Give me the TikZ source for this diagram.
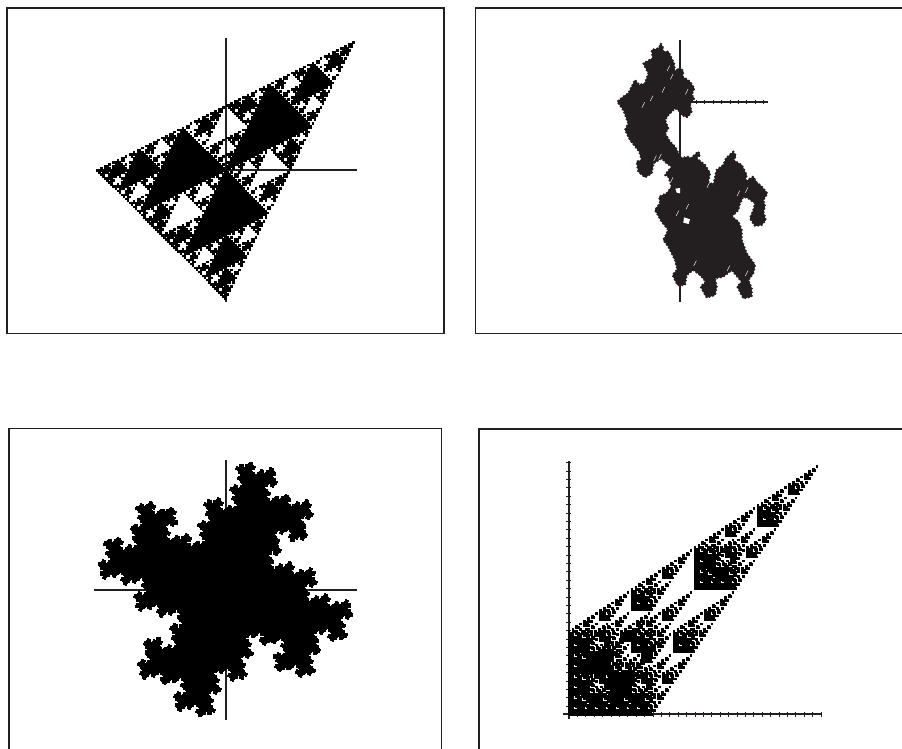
\documentclass[tikz,border=0pt]{standalone}
\makeatletter
\definecolor{ink}{HTML}{231F20}
\def\dodigit#1#2{\edef\temp{\noexpand\recur{\nd}%
 {\the\numexpr\cx+\cre*#1/1000000-\cim*#2/1000000\relax}%
 {\the\numexpr\cy+\cim*#1/1000000+\cre*#2/1000000\relax}%
 {\nmr}{\nmi}}\temp}
\def\recur#1#2#3#4#5{%
 \ifnum#1=0
  \pgfpathrectangle{\pgfqpoint{#2sp}{#3sp}}{\pgfqpoint{\dotw}{\dotw}}\pgfusepath{fill}%
 \else
  \begingroup
  \edef\nd{\the\numexpr#1-1\relax}%
  \edef\nmr{\the\numexpr#4*\ibr/1000000-#5*\ibi/1000000\relax}%
  \edef\nmi{\the\numexpr#4*\ibi/1000000+#5*\ibr/1000000\relax}%
  \def\cx{#2}\def\cy{#3}\def\cre{\nmr}\def\cim{\nmi}%
  \digits
  \endgroup
 \fi}
\newcommand\fractal[7]{%
 \begingroup
 \def\ibr{#4}\def\ibi{#5}\def\dotw{#6}\def\digits{#7}%
 \edef\ox{\the\numexpr\dimexpr#1pt-#6/2\relax\relax}\edef\oy{\the\numexpr\dimexpr#2pt-#6/2\relax\relax}%
 \recur{#3}{\ox}{\oy}{1000000}{0}%
 \endgroup}
\makeatother
\def\D#1#2{\dodigit{\numexpr#1*65536\relax}{\numexpr#2*65536\relax}}
\def\E#1#2{\dodigit{\numexpr#1*5505024\relax}{\numexpr#2*5505024\relax}}
\tikzset{frame/.style={draw=ink,line width=1.6pt},axis/.style={draw=ink,line width=2pt},tick/.style={draw=ink,line width=.7pt},
 beads/.style={draw=ink,line width=2.6pt,line cap=round,dash pattern=on 0pt off 3.6pt},
 slit/.style={draw=white,line width=.45pt}}
\begin{document}
\begin{tikzpicture}[x=1pt,y=-1pt,yshift=749pt]
\useasboundingbox (0,0) rectangle (902,749);
\draw[frame] (7,8) rectangle (444,333.5);
\draw[frame] (475.5,8) rectangle (904,333.5);
\draw[frame] (9,428.5) rectangle (441.5,752);
\draw[frame] (479,429) rectangle (904,752);
% axes
\draw[axis] (96,170.5)--(357,170.5); \draw[axis] (225.5,38)--(225.5,302);
\draw[axis] (94,590)--(357,590); \draw[axis] (225.5,460)--(225.5,720);
\draw[axis] (640,102)--(768,102); \draw[axis] (679.5,40)--(679.5,302);
\draw[axis] (563,714.5)--(822,714.5); \draw[axis] (568.5,461)--(568.5,719);
\foreach \t in {0,...,30}{\draw[tick] (569+\t*8.4,712)--(569+\t*8.4,717);\draw[tick] (566,714.5-\t*8.4)--(571,714.5-\t*8.4);}
\foreach \t in {0,...,10}{\draw[tick] (679.5+\t*8.4,100)--(679.5+\t*8.4,104);}
\fill[ink] \pgfextra{\pgftransformreset
 \fractal{225.5}{578.5}{6}{500000}{0}{2.6pt}{\D{-130}{0}\D{0}{-130}\D{130}{130}\D00}
 \fractal{225.5}{159.5}{6}{400000}{200000}{2.5pt}{\D00\D{130}{109}\D{-109}{130}\D{-130}{-109}\D{109}{-130}}
 \fractal{569}{34.5}{6}{500000}{0}{2.8pt}{\E00\E01\E10\E33}
 };
\begin{scope}[xshift=600pt,yshift=-30pt,x=.33333pt,y=-.33333pt]
\path[fill=ink,beads,postaction={fill=ink}] (183,42)--(190,55)--(185,65)--(205,65)--(215,85)--(222,100)--(225,125)--(240,112)--(250,125)--(248,140)--(270,155)--(283,175)--(275,195)--(283,205)--(270,225)--(275,245)--(262,262)--(245,255)--(235,240)--(225,235)--(205,255)--(195,270)--(205,295)--(195,310)--(210,335)--(225,350)--(238,375)--(245,385)--(262,380)--(272,385)--(295,365)--(300,375)--(290,385)--(315,405)--(330,430)--(325,455)--(340,465)--(350,420)--(370,405)--(378,385)--(400,365)--(408,378)--(400,390)--(425,405)--(440,435)--(435,455)--(460,440)--(468,455)--(485,470)--(502,490)--(490,510)--(495,530)--(490,545)--(497,570)--(485,585)--(465,588)--(450,565)--(460,540)--(465,520)--(445,505)--(430,500)--(420,520)--(415,540)--(395,560)--(415,575)--(425,600)--(425,630)--(440,670)--(465,705)--(460,730)--(445,750)--(455,775)--(455,800)--(430,805)--(412,770)--(425,755)--(395,720)--(370,740)--(345,745)--(350,770)--(345,795)--(320,803)--(302,770)--(318,755)--(300,735)--(280,720)--(260,735)--(255,765)--(232,765)--(218,735)--(232,718)--(225,690)--(205,650)--(190,630)--(205,600)--(185,575)--(165,540)--(180,520)--(178,500)--(200,490)--(215,470)--(205,440)--(195,435)--(215,410)--(200,400)--(185,385)--(160,400)--(155,430)--(135,442)--(115,425)--(110,395)--(125,390)--(118,365)--(90,330)--(75,300)--(85,280)--(70,240)--(52,215)--(70,200)--(85,190)--(105,150)--(118,165)--(135,160)--(145,130)--(130,100)--(158,85)--(155,60)--(175,55)--cycle;
\foreach \px/\py in {205/115,215/140,260/185,190/180,155/205,130/225,180/380,165/385,215/450,262/530,415/490,325/465,440/480,285/700,385/715,440/730,232/550}
 \draw[slit] (\px-4,\py+8)..controls (\px-2,\py+2) and (\px+2,\py-2)..(\px+4,\py-8);
\fill[white] (252,562)--(270,568)--(266,582)--(250,578)--cycle;
\fill[white] (226,476)--(240,474)--(240,490)--(230,488)--cycle;
\end{scope}
\end{tikzpicture}
\end{document}
